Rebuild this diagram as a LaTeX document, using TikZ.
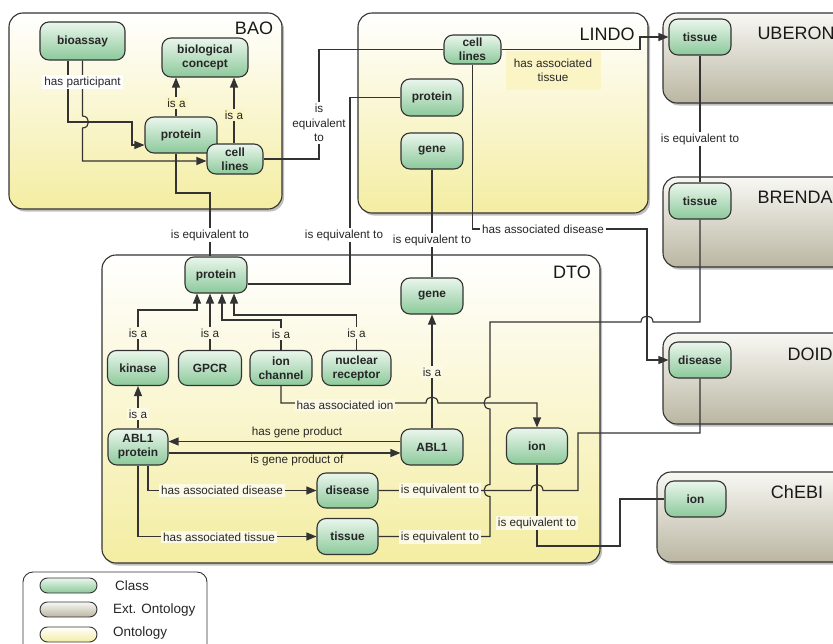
\documentclass[tikz,border=0pt]{standalone}
\usepackage{fontspec}
\setmainfont{Liberation Sans}
\usetikzlibrary{arrows.meta,shadows}

\definecolor{classtop}{HTML}{EAF6EC}
\definecolor{classbot}{HTML}{8CC99A}
\definecolor{ontotop}{HTML}{FFFFFF}
\definecolor{ontobot}{HTML}{F4EDA2}
\definecolor{exttop}{HTML}{F8F8F4}
\definecolor{extbot}{HTML}{BAB6A2}
\definecolor{ink}{HTML}{333333}
\definecolor{labelbg}{HTML}{FCFAE6}
\definecolor{labelyel}{HTML}{FBF4C4}

\tikzset{
  sz/.style 2 args={minimum width=#1pt, minimum height=#2pt},
  classnode/.style={draw=ink, line width=1.1pt, rounded corners=9pt,
    top color=classtop, bottom color=classbot, align=center, inner sep=1pt,
    text=black!85, font=\bfseries\fontsize{11.9}{14}\selectfont},
  ontobox/.style={draw=ink, line width=1.1pt, rounded corners=14pt,
    top color=ontotop, bottom color=ontobot,
    drop shadow={shadow xshift=2pt, shadow yshift=-2.5pt, opacity=0.5}},
  extbox/.style={draw=ink, line width=1.1pt, rounded corners=14pt,
    top color=exttop, bottom color=extbot,
    drop shadow={shadow xshift=2pt, shadow yshift=-2.5pt, opacity=0.5}},
  boxtitle/.style={font=\fontsize{18}{20}\selectfont, text=black!90, inner sep=0pt},
  link/.style={draw=ink, line width=1.15pt},
  arr/.style={-{Triangle[length=10pt,width=8pt]}},
  elabel/.style={font=\fontsize{11.7}{13.5}\selectfont, fill=labelbg,
    inner sep=2pt, text=black!85, align=center},
  pill/.style={draw=ink, line width=0.9pt, rounded corners=7.5pt, sz={57}{15}},
  legtext/.style={font=\fontsize{13.5}{15}\selectfont, anchor=west, inner sep=0pt,
    text height=1.5ex, text depth=.25ex, text=black!85},
}

\begin{document}
\begin{tikzpicture}[x=1pt,y=-1pt]
\useasboundingbox (0,0) rectangle (833,643);

% ontology containers
\node[ontobox, sz={273}{196}] (bao)   at (145.5,111) {};
\node[ontobox, sz={290}{200}] (lindo) at (503,113) {};
\node[ontobox, sz={498}{308}] (dto)   at (351,409) {};
\node[extbox, sz={197}{90}] (uberon) at (761.5,58) {};
\node[extbox, sz={197}{90}] (brenda) at (761.5,222) {};
\node[extbox, sz={197}{91}] (doid)   at (761.5,378.5) {};
\node[extbox, sz={203}{90}] (chebi)  at (758.5,517) {};

\node[boxtitle] (baot)    at (254,28) {BAO};
\node[boxtitle] (lindot)  at (607,34) {LINDO};
\node[boxtitle] (dtot)    at (572,272) {DTO};
\node[boxtitle] (ubt)     at (796,33) {UBERON};
\node[boxtitle] (brt)     at (795,197) {BRENDA};
\node[boxtitle] (doidt)   at (810,354) {DOID};
\node[boxtitle] (chebit)  at (797,492) {ChEBI};

% legend
\node[draw=ink, line width=0.9pt, rounded corners=10pt, fill=white, sz={184}{83}] (legend) at (115,613.5) {};
\node[pill, top color=classtop, bottom color=classbot] (lgclass) at (68.5,585.5) {};
\node[pill, top color=exttop, bottom color=extbot] (lgext) at (68.5,609.5) {};
\node[pill, top color=ontotop, bottom color=ontobot] (lgonto) at (68.5,634.5) {};
\node[legtext] (lgclasst) at (115,587) {Class};
\node[legtext] (lgextt) at (113,610) {Ext. Ontology};
\node[legtext] (lgontot) at (113,633) {Ontology};

% classes
\node[classnode, sz={85}{38}] (bioassay) at (82.5,41) {bioassay};
\node[classnode, sz={86}{39}] (bioconc)  at (205,57.5) {biological\\concept};
\node[classnode, sz={72}{36}] (baoprot)  at (181,135) {protein};
\node[classnode, sz={56}{30}] (baocell)  at (235,159) {cell\\lines};

\node[classnode, sz={57}{29}] (lincell)  at (472.5,49.5) {cell\\lines};
\node[classnode, sz={62}{37}] (linprot)  at (432,97.5) {protein};
\node[classnode, sz={62}{36}] (lingene)  at (432,151) {gene};

\node[classnode, sz={62}{36}] (dtoprot)  at (216,275) {protein};
\node[classnode, sz={62}{36}] (dtogene)  at (432,296) {gene};
\node[classnode, sz={61}{35}] (kinase)   at (138,368) {kinase};
\node[classnode, sz={63}{35}] (gpcr)     at (210,368) {GPCR};
\node[classnode, sz={62}{35}] (ionch)    at (281,368) {ion\\channel};
\node[classnode, sz={69}{35}] (nucrec)   at (356.5,368) {nuclear\\receptor};
\node[classnode, sz={60}{36}] (ablprot)  at (138,447) {ABL1\\protein};
\node[classnode, sz={62}{36}] (abl)      at (432,447) {ABL1};
\node[classnode, sz={61}{36}] (dtoion)   at (537,446) {ion};
\node[classnode, sz={61}{35}] (dtodis)   at (347.5,490.5) {disease};
\node[classnode, sz={61}{36}] (dtotis)   at (347.5,536.5) {tissue};

\node[classnode, sz={62}{36}] (ubtis)    at (700,37) {tissue};
\node[classnode, sz={62}{36}] (brtis)    at (700,201) {tissue};
\node[classnode, sz={62}{36}] (doiddis)  at (700,360) {disease};
\node[classnode, sz={61}{36}] (chion)    at (695.5,499) {ion};

% BAO relations
\draw[link,arr] ([xshift=-14.5pt]bioassay.south) -- (68,122) -- (132,122) -- (132,145) -- ([yshift=-10pt]baoprot.west);
\draw[link,arr] (bioassay.south) -- (82.5,116) .. controls (90.5,116) and (90.5,128) .. (82.5,128)
  -- (82.5,161) -- ([yshift=-2pt]baocell.west);
\draw[link,arr] ([xshift=-5pt]baoprot.north) -- ([xshift=-5pt]baoprot.north |- bioconc.south);
\draw[link,arr] ([xshift=-1pt]baocell.north) -- ([xshift=-1pt]baocell.north |- bioconc.south);
\draw[link] ([xshift=-5pt]baoprot.south) -- (176,193) -- (210,193) -- ([xshift=-6pt]dtoprot.north);
\draw[link] (baocell.east) -- (319,159) -- (319,49.5) -- (lincell.west);

% LINDO relations
\draw[link,arr] (lincell.east) -- (640,49.5) -- (640,37) -- (ubtis.west);
\draw[link,arr] (lincell.south) -- (472.5,229) -- (647,229) -- (647,360) -- (doiddis.west);
\draw[link] (linprot.west) -- (350,97.5) -- (350,284) -- ([yshift=-9pt]dtoprot.east);
\draw[link] (lingene.south) -- (dtogene.north);

% external equivalences
\draw[link] (ubtis.south) -- (brtis.north);
\draw[link] (brtis.south) -- (700,322) -- (653,322) .. controls (653,314) and (641,314) .. (641,322)
  -- (490,322) -- (490,397) .. controls (482,397) and (482,409) .. (490,409)
  -- (490,484.5) .. controls (482,484.5) and (482,496.5) .. (490,496.5)
  -- (490,536.5) -- (dtotis.east);
\draw[link] (doiddis.south) -- (700,433) -- (578,433) -- (578,490.5)
  -- (543,490.5) .. controls (543,482.5) and (531,482.5) .. (531,490.5) -- (dtodis.east);
\draw[link] (dtoion.south) -- (537,546) -- (620,546) -- (620,499) -- (chion.west);

% DTO relations
\draw[link,arr] (ionch.south) -- (281,403) -- (426,403) .. controls (426,395) and (438,395) .. (438,403)
  -- (537,403) -- (dtoion.north);
\draw[link,arr] (abl.north) -- (dtogene.south);
\draw[link,arr] (kinase.north) -- (138,310) -- (197,310) -- ([xshift=-19pt]dtoprot.south);
\draw[link,arr] (gpcr.north) -- ([xshift=-6pt]dtoprot.south);
\draw[link,arr] (ionch.north) -- (281,320) -- (222,320) -- ([xshift=6pt]dtoprot.south);
\draw[link,arr] (nucrec.north) -- (356.5,315) -- (234,315) -- ([xshift=18pt]dtoprot.south);
\draw[link,arr] (ablprot.north) -- (kinase.south);
\draw[link,arr] ([yshift=5.5pt]abl.west) -- ([yshift=5.5pt]ablprot.east);
\draw[link,arr] ([yshift=-6pt]ablprot.east) -- ([yshift=-6pt]abl.west);
\draw[link,arr] ([xshift=10pt]ablprot.south) -- (148,490.5) -- (dtodis.west);
\draw[link,arr] (ablprot.south) -- (138,536.5) -- (dtotis.west);

% relation labels
\node[elabel, fill=white] (lpart) at (82.5,82) {has participant};
\node[elabel, fill=labelyel] (lisa1) at (176.5,103) {is a};
\node[elabel, fill=labelyel] (lisa2) at (234,115) {is a};
\node[elabel, fill=white] (leq1) at (210,235) {is equivalent to};
\node[elabel, fill=white, font=\fontsize{11.7}{14.5}\selectfont] (leq2) at (319,123) {is\\equivalent\\to};
\node[elabel, fill=labelyel, sz={95}{39}] (ltis) at (553,70.5) {has associated\\tissue};
\node[elabel, fill=white] (ldis) at (543,229) {has associated disease};
\node[elabel, fill=white] (leq3) at (344,235) {is equivalent to};
\node[elabel, fill=white] (leq4) at (432,240) {is equivalent to};
\node[elabel, fill=white] (leq5) at (700,139) {is equivalent to};
\node[elabel] (leq6) at (440,537) {is equivalent to};
\node[elabel] (leq7) at (440,490.5) {is equivalent to};
\node[elabel] (leq8) at (537,523) {is equivalent to};
\node[elabel] (lion) at (345,405) {has associated ion};
\node[elabel] (lisa3) at (432,372) {is a};
\node[elabel] (lisa4) at (138,333) {is a};
\node[elabel] (lisa5) at (210,333) {is a};
\node[elabel] (lisa6) at (281,334) {is a};
\node[elabel] (lisa7) at (356.5,333) {is a};
\node[elabel] (lisa8) at (138,414) {is a};
\node[elabel, fill=none] (lgp) at (297,432) {has gene product};
\node[elabel, fill=none] (lgpo) at (297,460) {is gene product of};
\node[elabel] (ladis) at (222,490.5) {has associated disease};
\node[elabel] (latis) at (219,537) {has associated tissue};
\end{tikzpicture}
\end{document}
